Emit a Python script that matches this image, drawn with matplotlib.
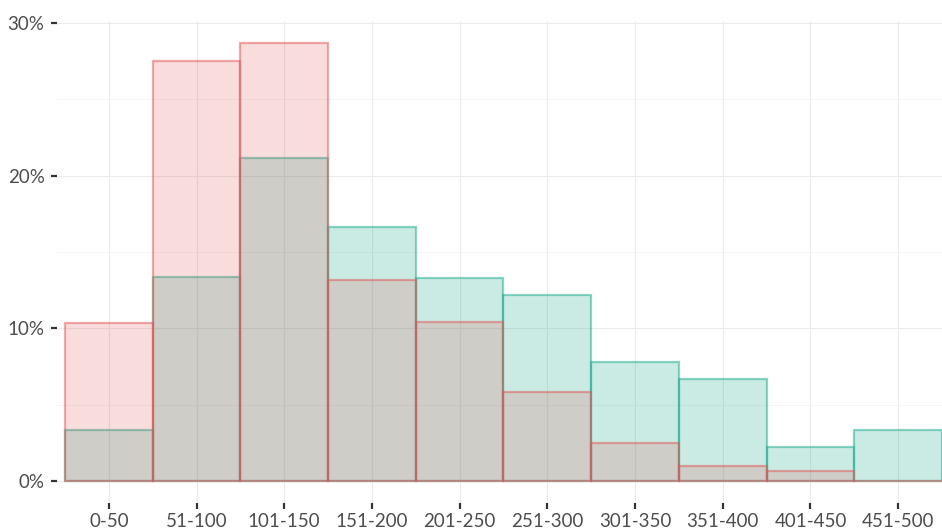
import matplotlib
matplotlib.use("Agg")
import matplotlib.pyplot as plt
import numpy as np

categories = ["0-50", "51-100", "101-150", "151-200", "201-250",
              "251-300", "301-350", "351-400", "401-450", "451-500"]
teal_pct = [3.37, 13.4, 21.13, 16.66, 13.32, 12.2, 7.8, 6.66, 2.25, 3.34]
red_pct = [10.37, 27.5, 28.7, 13.16, 10.44, 5.85, 2.47, 0.98, 0.64, 0.0]
y_ticks = [0, 10, 20, 30]
y_tick_labels = ["0%", "10%", "20%", "30%"]

red = (225/255, 85/255, 85/255)
teal = (30/255, 170/255, 140/255)

plt.rcParams['font.family'] = ['Lato', 'DejaVu Sans']

W, H = 942, 528
fig = plt.figure(figsize=(W/100, H/100), dpi=100)
left, right, top, bottom = 57, 950, 21, 503
ax = fig.add_axes([left/W, 1 - bottom/H, (right-left)/W, (bottom-top)/H])

x = np.arange(len(categories))
ax.bar(x, teal_pct, width=1.0, color=teal + (0.23,), edgecolor=teal + (0.5,),
       linewidth=1.6, zorder=2)
ax.bar(x, red_pct, width=1.0, color=red + (0.2,), edgecolor=red + (0.5,),
       linewidth=1.6, zorder=3)

ax.set_xlim(-0.5 - 8/88, 9.5 + 8/88)
ymax = max(red_pct + teal_pct)
ax.set_ylim(-0.05*ymax, 1.05*ymax)

ax.set_xticks(x)
ax.set_xticklabels(categories)
ax.set_yticks(y_ticks)
ax.set_yticklabels(y_tick_labels)
ax.set_yticks([5, 15, 25], minor=True)

ax.grid(True, which='major', color='#ebebeb', linewidth=0.8, zorder=0)
ax.grid(True, which='minor', axis='y', color='#f2f2f2', linewidth=0.6, zorder=0)
ax.set_axisbelow(True)

for s in ax.spines.values():
    s.set_visible(False)

ax.tick_params(axis='both', which='major', length=4, width=1.6, color='#333333',
               labelsize=13.5, labelcolor='#4d4d4d', pad=5)
ax.tick_params(axis='y', which='minor', length=0)
ax.tick_params(axis='x', pad=3)

fig.savefig("out.png", dpi=100)
